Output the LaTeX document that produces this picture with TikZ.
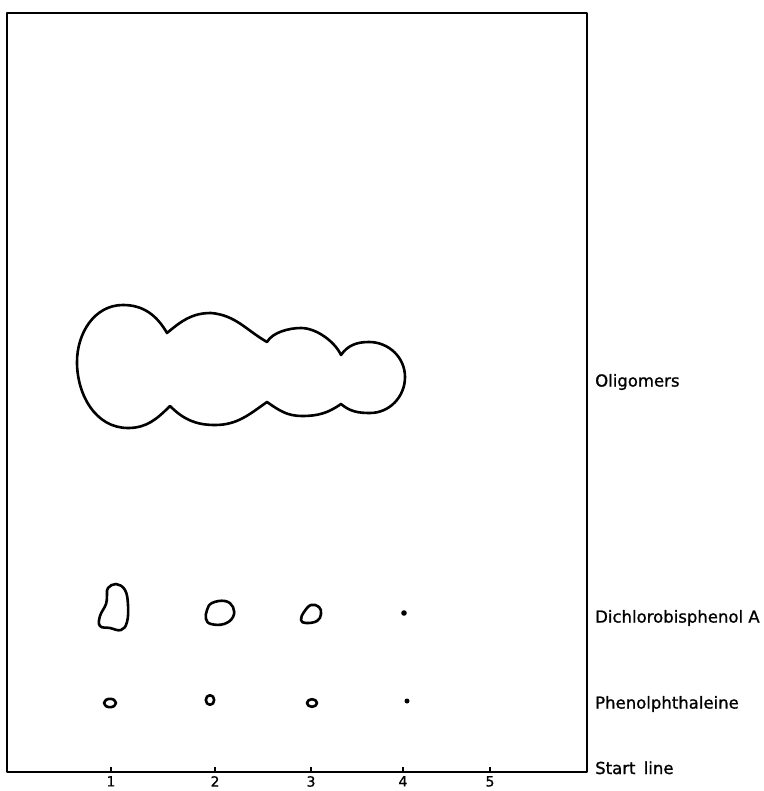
\documentclass[tikz,border=0pt]{standalone}
\usepackage{fontspec}
\setmainfont{DejaVu Sans}
\newfontfamily\labfont[FakeBold=1.1]{DejaVu Sans}
\usetikzlibrary{positioning}
\begin{document}
\begin{tikzpicture}[x=1pt,y=1pt,line join=round,
  spot/.style={line width=2.6pt},
  lab/.style={anchor=west,inner sep=0pt,font=\labfont\fontsize{16.5}{19}\selectfont},
  num/.style={inner sep=0pt,font=\labfont\fontsize{14}{16}\selectfont}]
  \useasboundingbox (0,0) rectangle (763,-791);
  % plate, the start line is its lower edge
  \draw[line width=1.8pt] (7,-13) rectangle (587,-772);
  % lanes on the start line
  \coordinate (t1) at (111,-772);
  \coordinate (t2) at (215,-772);
  \coordinate (t3) at (311,-772);
  \coordinate (t4) at (403,-772);
  \coordinate (t5) at (490,-772);
  \draw[line width=1.8pt] (t1) -- ++(0,5);
  \draw[line width=1.8pt] (t2) -- ++(0,5);
  \draw[line width=1.8pt] (t3) -- ++(0,5);
  \draw[line width=1.8pt] (t4) -- ++(0,5);
  \draw[line width=1.8pt] (t5) -- ++(0,5);
  \node[num,below=4pt of t1] (n1) {1};
  \node[num,below=4pt of t2] (n2) {2};
  \node[num,below=4pt of t3] (n3) {3};
  \node[num,below=4pt of t4] (n4) {4};
  \node[num,below=4pt of t5] (n5) {5};
  % oligomer zone
  \draw[spot] (77,-362) to[out=90,in=180] (123,-305)
    to[out=0,in=120] (167,-333)
    to[out=40,in=180] (211,-313)
    to[out=355,in=150] (267,-342)
    to[out=60,in=180,looseness=0.8] (301,-328)
    to[out=0,in=115,looseness=0.8] (341,-355)
    to[out=55,in=180] (369,-342)
    to[out=0,in=90] (405,-377)
    to[out=270,in=0] (370,-413)
    to[out=180,in=320] (341,-404)
    to[out=215,in=0] (302,-416)
    to[out=180,in=325] (267,-402)
    to[out=215,in=0] (215,-425)
    to[out=180,in=315] (170,-406)
    to[out=225,in=0] (128,-428)
    to[out=180,in=270] cycle;
  % dichlorobisphenol A spots
  \draw[spot] plot[smooth cycle,tension=0.7] coordinates {(108,-588) (116,-584) (125,-590)
    (128,-605) (127,-622) (121,-630) (110,-628) (100,-626) (100,-616) (106,-604) (107,-594)};
  \draw[spot] plot[smooth cycle,tension=0.7] coordinates {(212,-603) (225,-601) (233,-607)
    (233,-617) (224,-624) (211,-624) (206,-619) (207,-610)};
  \draw[spot] plot[smooth cycle,tension=0.7] coordinates {(311,-605) (319,-607) (321,-614)
    (317,-621) (306,-623) (301,-620) (304,-612)};
  \fill (404,-613) circle (2.8pt);
  % phenolphthaleine spots
  \draw[spot] (110,-703) ellipse (6pt and 4.2pt);
  \draw[spot] (210,-700) ellipse (4.2pt and 4.8pt);
  \draw[spot] (312,-703) ellipse (5pt and 3.8pt);
  \fill (407,-701) circle (2.5pt);
  % zone labels
  \node[lab] (olig) at (595,-382) {Oligomers};
  \node[lab] (dcbpa) at (595,-618) {Dichlorobisphenol A};
  \node[lab] (php) at (595,-704) {Phenolphthaleine};
  \node[lab,anchor=base west] (start) at (595,-774) {Start\hskip0.5em line};
\end{tikzpicture}
\end{document}
